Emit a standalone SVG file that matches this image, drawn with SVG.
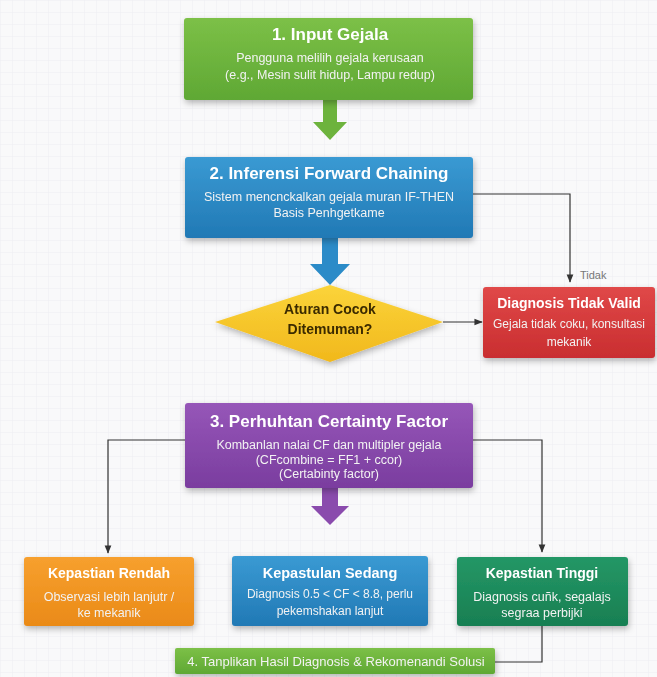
<svg xmlns="http://www.w3.org/2000/svg" width="657" height="677" viewBox="0 0 657 677">
<defs>
<pattern id="grid" width="12" height="12" patternUnits="userSpaceOnUse">
<path d="M12 0H0V12" fill="none" stroke="#ececf0" stroke-width="0.8"/>
</pattern>
<filter id="sh" x="-10%" y="-10%" width="125%" height="140%">
<feDropShadow dx="1" dy="3" stdDeviation="3" flood-color="#000" flood-opacity="0.28"/>
</filter>
<linearGradient id="gGreen" x1="0" y1="0" x2="0" y2="1"><stop offset="0" stop-color="#7cc047"/><stop offset="1" stop-color="#5fa834"/></linearGradient>
<linearGradient id="gBlue" x1="0" y1="0" x2="0" y2="1"><stop offset="0" stop-color="#3a9ad3"/><stop offset="1" stop-color="#2179b5"/></linearGradient>
<linearGradient id="gYellow" x1="0" y1="0" x2="0" y2="1"><stop offset="0" stop-color="#fbd43a"/><stop offset="1" stop-color="#f1b81c"/></linearGradient>
<linearGradient id="gRed" x1="0" y1="0" x2="0" y2="1"><stop offset="0" stop-color="#e04848"/><stop offset="1" stop-color="#c92e30"/></linearGradient>
<linearGradient id="gPurple" x1="0" y1="0" x2="0" y2="1"><stop offset="0" stop-color="#9656b8"/><stop offset="1" stop-color="#7a3d9f"/></linearGradient>
<linearGradient id="gOrange" x1="0" y1="0" x2="0" y2="1"><stop offset="0" stop-color="#f7a02e"/><stop offset="1" stop-color="#ea8a18"/></linearGradient>
<linearGradient id="gDkGreen" x1="0" y1="0" x2="0" y2="1"><stop offset="0" stop-color="#249766"/><stop offset="1" stop-color="#187f52"/></linearGradient>
<marker id="ah" viewBox="0 0 10 10" refX="9" refY="5" markerWidth="7" markerHeight="7" orient="auto-start-reverse">
<path d="M0 1L10 5L0 9z" fill="#333"/>
</marker>
<style>
.t{font-family:"Liberation Sans",Arial,sans-serif;font-weight:bold;font-size:17px;fill:#fff;text-anchor:middle}
.s{font-family:"Liberation Sans",Arial,sans-serif;font-size:12.5px;fill:#f2f2f2;text-anchor:middle}
.st{font-family:"Liberation Sans",Arial,sans-serif;font-weight:bold;font-size:14px;fill:#fff;text-anchor:middle}
.ln{fill:none;stroke:#333;stroke-width:1.2}
.box{filter:url(#sh)}
</style>
</defs>
<rect width="657" height="677" fill="#f9f9fa"/>
<rect width="657" height="677" fill="url(#grid)"/>

<g id="connectors">
<path d="M323 100V122H313L330 140L347 122H337V100Z" fill="#6db33d"/>
<path d="M322 238V264H310L330 285L350 264H338V238Z" fill="#2b8bc8"/>
<path d="M322 488V506H311L330 525L349 506H338V488Z" fill="#8a4bad"/>
<path class="ln" d="M473 194H570V282" marker-end="url(#ah)"/>
<path class="ln" d="M443 322H482" marker-end="url(#ah)"/>
<path class="ln" d="M185 440H108V553" marker-end="url(#ah)"/>
<path class="ln" d="M473 440H542V552" marker-end="url(#ah)"/>
<path class="ln" d="M495 662H542V626"/>
<text x="580" y="279" style="font-family:'Liberation Sans',Arial,sans-serif;font-size:11px;fill:#777">Tidak</text>
</g>

<g id="n1" class="box">
<rect x="184" y="18" width="289" height="82" rx="3" fill="url(#gGreen)"/>
<text class="t" x="330" y="40">1. Input Gejala</text>
<text class="s" x="330" y="62">Pengguna melilih gejala kerusaan</text>
<text class="s" x="330" y="79">(e.g., Mesin sulit hidup, Lampu redup)</text>
</g>

<g id="n2" class="box">
<rect x="185" y="157" width="288" height="81" rx="3" fill="url(#gBlue)"/>
<text class="t" x="329" y="179">2. Inferensi Forward Chaining</text>
<text class="s" x="329" y="201">Sistem mencnckalkan gejala muran IF-THEN</text>
<text class="s" x="329" y="217">Basis Penhgetkame</text>
</g>

<g id="n3" class="box">
<path d="M330 285L443 322L330 362L215 322Z" fill="url(#gYellow)"/>
<text class="st" x="330" y="314" style="fill:#3a2a00">Aturan Cocok</text>
<text class="st" x="330" y="334" style="fill:#3a2a00">Ditemuman?</text>
</g>

<g id="n4" class="box">
<rect x="483" y="287" width="172" height="71" rx="3" fill="url(#gRed)"/>
<text class="st" x="569" y="308">Diagnosis Tidak Valid</text>
<text class="s" x="569" y="328" style="font-size:12px">Gejala tidak coku, konsultasi</text>
<text class="s" x="569" y="346" style="font-size:12px">mekanik</text>
</g>

<g id="n5" class="box">
<rect x="185" y="403" width="288" height="85" rx="3" fill="url(#gPurple)"/>
<text class="t" x="329" y="427">3. Perhuhtan Certainty Factor</text>
<text class="s" x="329" y="449">Kombanlan nalai CF dan multipler gejala</text>
<text class="s" x="329" y="464">(CFcombine = FF1 + ccor)</text>
<text class="s" x="329" y="478">(Certabinty factor)</text>
</g>

<g id="n6" class="box">
<rect x="24" y="557" width="170" height="69" rx="3" fill="url(#gOrange)"/>
<text class="st" x="109" y="578">Kepastian Rendah</text>
<text class="s" x="109" y="601">Observasi lebih lanjutr /</text>
<text class="s" x="109" y="617">ke mekanik</text>
</g>

<g id="n7" class="box">
<rect x="232" y="556" width="196" height="70" rx="3" fill="url(#gBlue)"/>
<text class="st" x="330" y="578" style="font-size:14.5px">Kepastulan Sedang</text>
<text class="s" x="330" y="598" style="font-size:12px">Diagnosis 0.5 &lt; CF &lt; 8.8, perlu</text>
<text class="s" x="330" y="615" style="font-size:12px">pekemshakan lanjut</text>
</g>

<g id="n8" class="box">
<rect x="457" y="557" width="171" height="69" rx="3" fill="url(#gDkGreen)"/>
<text class="st" x="542" y="578">Kepastian Tinggi</text>
<text class="s" x="542" y="601">Diagnosis cuñk, segalajs</text>
<text class="s" x="542" y="617">segraa perbijki</text>
</g>

<g id="n9" class="box">
<rect x="175" y="648" width="320" height="26" rx="2" fill="url(#gGreen)"/>
<text class="s" x="336" y="666" style="font-size:13px">4. Tanplikan Hasil Diagnosis &amp; Rekomenandi Solusi</text>
</g>
</svg>
